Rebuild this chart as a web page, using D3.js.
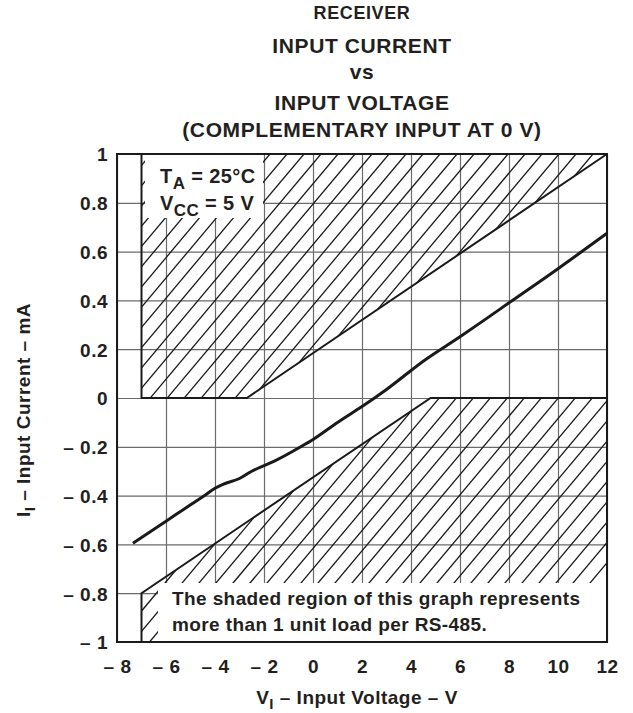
<!DOCTYPE html>
<html>
<head>
<meta charset="utf-8">
<script src="https://cdn.jsdelivr.net/npm/d3@7"></script>
<style>
  body { margin: 0; background: #fff; }
  text { font-family: "Liberation Sans", Arial, Helvetica, sans-serif; font-weight: bold; fill: #231f20; }
</style>
</head>
<body>
<div id="chart"></div>
<script>
// input voltage (V) and input current (mA) of the receiver curve
const voltage = [-7.35, -6, -5, -4.5, -4, -3.7, -3, -2.5, -1.6, -0.5, 0, 1, 2, 3, 4.57, 6, 6.9, 8, 10, 12];
const current = [-0.595, -0.505, -0.438, -0.405, -0.37, -0.355, -0.33, -0.30, -0.26, -0.20, -0.17, -0.10, -0.035, 0.035, 0.156, 0.251, 0.313, 0.39, 0.53, 0.675];

// shaded "more than 1 unit load" regions
const upperRegion = [[-7, 1], [-7, 0], [-2.7, 0], [12, 1]];
const lowerRegion = [[-7, -1], [-7, -0.8], [4.8, 0], [12, 0], [12, -1]];

const xTicks = [-8, -6, -4, -2, 0, 2, 4, 6, 8, 10, 12];
const yTicks = [-1, -0.8, -0.6, -0.4, -0.2, 0, 0.2, 0.4, 0.6, 0.8, 1];

const titleLines = ["RECEIVER", "INPUT CURRENT", "vs", "INPUT VOLTAGE", "(COMPLEMENTARY INPUT AT 0 V)"];
const noteLines = ["The shaded region of this graph represents", "more than 1 unit load per RS-485."];

let width = 633,
    height = 713;
let plotLeft = 117, plotRight = 607, plotTop = 154, plotBottom = 642;

let svg = d3.select("#chart")
    .append("svg")
    .attr("width", width)
    .attr("height", height);

let x = d3.scaleLinear().domain([-8, 12]).range([plotLeft, plotRight]);
let y = d3.scaleLinear().domain([-1, 1]).range([plotBottom, plotTop]);

function fmt(d) {
    let s = String(+Math.abs(d).toFixed(1));
    return d < 0 ? "\u2013 " + s : s;
}

// grid
let gx = svg.append("g")
    .attr("transform", "translate(0," + plotBottom + ")")
    .call(d3.axisBottom(x).tickValues(xTicks).tickSize(-(plotBottom - plotTop)).tickFormat(fmt).tickPadding(18));
let gy = svg.append("g")
    .attr("transform", "translate(" + plotLeft + ",0)")
    .call(d3.axisLeft(y).tickValues(yTicks).tickSize(-(plotRight - plotLeft)).tickFormat(fmt).tickPadding(9));

[gx, gy].forEach(function (g) {
    g.select(".domain").remove();
    g.selectAll("line").attr("stroke", "#6b6b6b").attr("stroke-width", 1.2);
    g.selectAll("text")
        .attr("fill", "#231f20")
        .style("font-size", "19px")
        .style("letter-spacing", "0.5px");
});
gy.selectAll("text").attr("dy", "0.36em");

// hatch inside the shaded regions
let defs = svg.append("defs");
let regionLine = d3.line().x(function (d) { return x(d[0]); }).y(function (d) { return y(d[1]); });

defs.append("clipPath").attr("id", "shade")
    .selectAll("path")
    .data([upperRegion, lowerRegion])
    .enter().append("path")
    .attr("d", function (d) { return regionLine(d) + "Z"; });

let step = 17;
let run = (plotBottom - plotTop) / Math.tan(50 * Math.PI / 180);
let starts = d3.range(plotLeft - run - step * 2, plotRight + step, step);

svg.append("g")
    .attr("clip-path", "url(#shade)")
    .selectAll("line")
    .data(starts)
    .enter().append("line")
    .attr("x1", function (d) { return d; })
    .attr("y1", plotBottom)
    .attr("x2", function (d) { return d + run; })
    .attr("y2", plotTop)
    .attr("stroke", "#1a1a1a")
    .attr("stroke-width", 1.3);

// region outlines
svg.append("path")
    .attr("d", regionLine(upperRegion))
    .attr("fill", "none")
    .attr("stroke", "#1a1a1a")
    .attr("stroke-width", 2);
svg.append("path")
    .attr("d", regionLine(lowerRegion.slice(0, 4)))
    .attr("fill", "none")
    .attr("stroke", "#1a1a1a")
    .attr("stroke-width", 2);

// the measured curve
svg.append("path")
    .datum(d3.zip(voltage, current))
    .attr("d", d3.line()
        .x(function (d) { return x(d[0]); })
        .y(function (d) { return y(d[1]); })
        .curve(d3.curveMonotoneX))
    .attr("fill", "none")
    .attr("stroke", "#1a1a1a")
    .attr("stroke-width", 3);

// conditions box
svg.append("rect")
    .attr("x", 145).attr("y", plotTop + 1)
    .attr("width", 118).attr("height", 63)
    .attr("fill", "#fff");

let cond = svg.append("g").style("font-size", "20px").style("letter-spacing", "0.4px");
let t1 = cond.append("text").attr("x", 160).attr("y", 183);
t1.append("tspan").text("T");
t1.append("tspan").attr("dy", 6).style("font-size", "17px").text("A");
t1.append("tspan").attr("dy", -6).text(" = 25\u00B0C");
let t2 = cond.append("text").attr("x", 160).attr("y", 210);
t2.append("tspan").text("V");
t2.append("tspan").attr("dy", 6).style("font-size", "17px").text("CC");
t2.append("tspan").attr("dy", -6).text(" = 5 V");

// note box
svg.append("rect")
    .attr("x", 158).attr("y", 583)
    .attr("width", plotRight - 158).attr("height", plotBottom - 583)
    .attr("fill", "#fff");

svg.append("g")
    .selectAll("text")
    .data(noteLines)
    .enter().append("text")
    .attr("x", 172)
    .attr("y", function (d, i) { return 605 + i * 26; })
    .style("font-size", "19px")
    .style("letter-spacing", "0.4px")
    .text(function (d) { return d; });

// frame
svg.append("rect")
    .attr("x", plotLeft).attr("y", plotTop)
    .attr("width", plotRight - plotLeft).attr("height", plotBottom - plotTop)
    .attr("fill", "none")
    .attr("stroke", "#1a1a1a")
    .attr("stroke-width", 2);

// title
let titleY = [19, 53, 79, 110, 137];
svg.append("g")
    .selectAll("text")
    .data(titleLines)
    .enter().append("text")
    .attr("x", (plotLeft + plotRight) / 2)
    .attr("y", function (d, i) { return titleY[i]; })
    .attr("text-anchor", "middle")
    .style("font-size", function (d, i) { return i === 0 ? "18px" : "21px"; })
    .style("letter-spacing", "0.6px")
    .text(function (d) { return d; });

// axis labels
let xl = svg.append("text")
    .attr("x", 357).attr("y", 704)
    .attr("text-anchor", "middle")
    .style("font-size", "19px")
    .style("letter-spacing", "0.5px");
xl.append("tspan").text("V");
xl.append("tspan").attr("dy", 5).style("font-size", "15px").text("I");
xl.append("tspan").attr("dy", -5).text(" \u2013 Input Voltage \u2013 V");

let yl = svg.append("text")
    .attr("transform", "translate(30,410) rotate(-90)")
    .attr("text-anchor", "middle")
    .style("font-size", "19px")
    .style("letter-spacing", "0.5px");
yl.append("tspan").text("I");
yl.append("tspan").attr("dy", 5).style("font-size", "15px").text("I");
yl.append("tspan").attr("dy", -5).text(" \u2013 Input Current \u2013 mA");
</script>
</body>
</html>
